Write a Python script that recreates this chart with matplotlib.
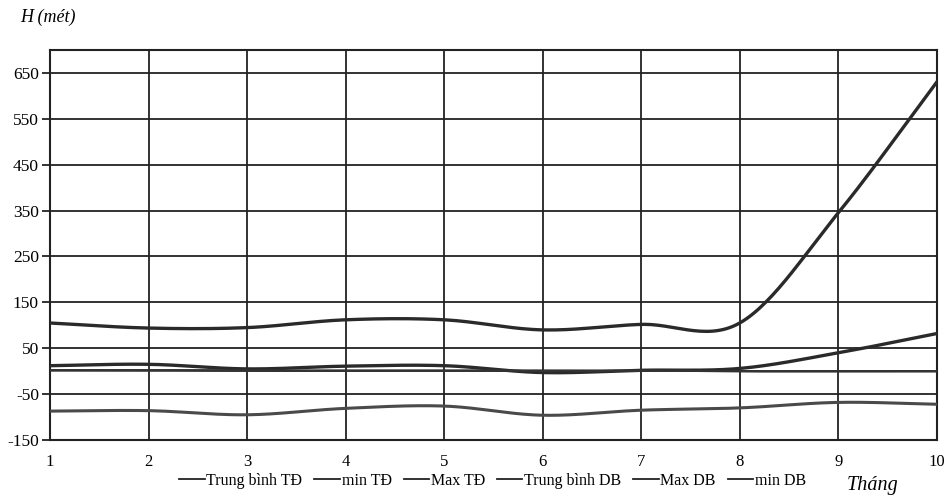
import matplotlib.pyplot as plt
import numpy as np

plt.rcParams['font.family'] = ['Liberation Serif', 'DejaVu Serif']
plt.rcParams['axes.unicode_minus'] = False

thang = np.arange(1, 11)

# Độ cao H (mét) theo tháng
tb_td = [12, 15, 5, 11, 12, -3, 2, 6, 40, 82]
min_td = [-87, -86, -95, -81, -76, -96, -85, -80, -68, -72]
max_td = [105, 94, 95, 112, 112, 90, 102, 105, 345, 630]
tb_db = [2, 2, 1, 1, 1, 1, 1, 0, 0, 0]
max_db = [2, 2, 1, 1, 1, 1, 1, 0, 0, 0]
min_db = [2, 2, 1, 1, 1, 1, 1, 0, 0, 0]

y_ticks = [-150, -50, 50, 150, 250, 350, 450, 550, 650]


def lam_tron(x, y, n=30):
    # nội suy Catmull-Rom để vẽ đường cong trơn qua các điểm
    x = np.asarray(x, float)
    y = np.asarray(y, float)
    m = np.gradient(y, x)
    m[1:-1] = (y[2:] - y[:-2]) / (x[2:] - x[:-2])
    xs, ys = [], []
    for i in range(len(x) - 1):
        h = x[i + 1] - x[i]
        t = np.linspace(0, 1, n, endpoint=False)
        h00 = 2 * t**3 - 3 * t**2 + 1
        h10 = t**3 - 2 * t**2 + t
        h01 = -2 * t**3 + 3 * t**2
        h11 = t**3 - t**2
        xs.append(x[i] + t * h)
        ys.append(h00 * y[i] + h10 * h * m[i] + h01 * y[i + 1] + h11 * h * m[i + 1])
    xs.append([x[-1]])
    ys.append([y[-1]])
    return np.concatenate(xs), np.concatenate(ys)


fig = plt.figure(figsize=(9.51, 4.99), dpi=100)
ax = fig.add_axes([0.0526, 0.1182, 0.9324, 0.7816])

series = [
    ('Trung bình TĐ', tb_td, '#2a2a2a', 2.4),
    ('min TĐ', min_td, '#4a4a4a', 2.2),
    ('Max TĐ', max_td, '#2a2a2a', 2.4),
    ('Trung bình DB', tb_db, '#333333', 1.5),
    ('Max DB', max_db, '#333333', 1.5),
    ('min DB', min_db, '#333333', 1.5),
]
for name, vals, col, lw in series:
    xs, ys = lam_tron(thang, vals)
    ax.plot(xs, ys, color=col, lw=lw, label=name, zorder=3)

ax.set_xlim(1, 10)
ax.set_ylim(-150, 700)
ax.set_xticks(thang)
ax.set_yticks(y_ticks)
ax.grid(True, color='#222222', lw=1.3)
ax.tick_params(axis='x', length=0, pad=10, labelsize=12)
ax.tick_params(axis='y', length=6, width=1.3, color='#222222', pad=2, labelsize=12.5)
for s in ax.spines.values():
    s.set_color('#222222')
    s.set_linewidth(1.5)

fig.text(0.021, 0.965, 'H (mét)', style='italic', fontsize=13, va='center')
fig.text(0.918, 0.028, 'Tháng', style='italic', fontsize=14.5, ha='center', va='center')

handles, labels = ax.get_legend_handles_labels()
leg = fig.legend(handles, labels, loc='center', bbox_to_anchor=(0.518, 0.036), ncol=6,
                 frameon=False, handlelength=1.6, handletextpad=0.1, columnspacing=0.75,
                 fontsize=11.5)
for h in leg.get_lines():
    h.set_linewidth(1.3)
    h.set_color('#222222')

fig.savefig('out.png', dpi=100)
